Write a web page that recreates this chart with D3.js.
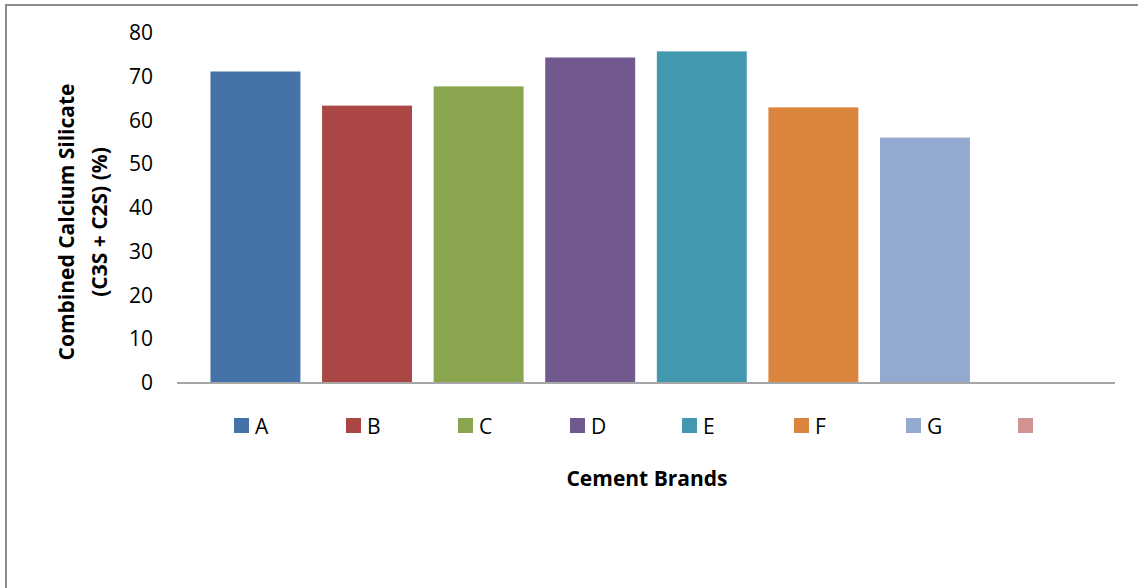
<!DOCTYPE html>
<html><head><meta charset="utf-8">
<script src="https://cdn.jsdelivr.net/npm/d3@7"></script>
<style>html,body{margin:0;padding:0;background:#fff;}svg{display:block;}</style>
</head><body>
<svg id="chart" width="1138" height="588"></svg>
<script>
const brands = ["A","B","C","D","E","F","G",""];
const values = [71.2, 63.4, 67.8, 74.4, 75.8, 63.0, 56.1, null];
const colors = ["#4572A7","#AA4643","#89A54E","#71588F","#4198AF","#DB843D","#93A9CF","#D19392"];
const yTicks = [0,10,20,30,40,50,60,70,80];
const yTitle = ["Combined Calcium Silicate","(C3S + C2S) (%)"];
const xTitle = "Cement Brands";

const svg = d3.select("#chart");
const font = "'Open Sans', Lato, sans-serif";

// outer frame
svg.append("rect").attr("x",6).attr("y",5).attr("width",1150).attr("height",600)
  .attr("fill","none").attr("stroke","#8c8c8c").attr("stroke-width",2);

const x = d3.scaleBand().domain(d3.range(brands.length)).range([177,1115])
  .paddingInner(0.194).paddingOuter(0.3);
const y = d3.scaleLinear().domain([0,80]).range([383,33]);

// bars
svg.append("g").selectAll("rect").data(values.map((v,i)=>({v,i})).filter(d=>d.v!=null))
  .join("rect")
  .attr("x",d=>x(d.i)).attr("width",x.bandwidth())
  .attr("y",d=>y(d.v)).attr("height",d=>y(0)-y(d.v))
  .attr("fill",d=>colors[d.i]);

// y axis
const yAxis = d3.axisLeft(y).tickValues(yTicks).tickSize(0).tickPadding(0);
const gy = svg.append("g").attr("transform","translate(153,0)").call(yAxis);
gy.select(".domain").remove();
gy.selectAll("text").attr("font-family",font).attr("font-size",21).attr("fill","#000");

// baseline
svg.append("line").attr("x1",177).attr("x2",1115).attr("y1",y(0)).attr("y2",y(0))
  .attr("stroke","#a6a6a6").attr("stroke-width",2);

// y title
const yt = svg.append("text").attr("transform","translate(82,222) rotate(-90)")
  .attr("text-anchor","middle").attr("font-family",font).attr("font-weight","bold")
  .attr("font-size",21).attr("fill","#000");
yt.selectAll("tspan").data(yTitle).join("tspan")
  .attr("x",0).attr("dy",(d,i)=> i===0 ? "-0.4em" : "1.6em").text(d=>d);

// x title
svg.append("text").attr("x",647).attr("y",486).attr("text-anchor","middle")
  .attr("font-family",font).attr("font-weight","bold").attr("font-size",21).text(xTitle);

// legend
const lx = d3.scalePoint().domain(d3.range(brands.length)).range([234,1018]);
const lg = svg.append("g").selectAll("g").data(brands.map((b,i)=>({b,i}))).join("g")
  .attr("transform",d=>`translate(${lx(d.i)},418)`);
lg.append("rect").attr("width",15).attr("height",15).attr("fill",d=>colors[d.i]);
lg.append("text").attr("x",21).attr("y",16).attr("font-family",font).attr("font-size",21)
  .text(d=>d.b);
</script>
</body></html>
